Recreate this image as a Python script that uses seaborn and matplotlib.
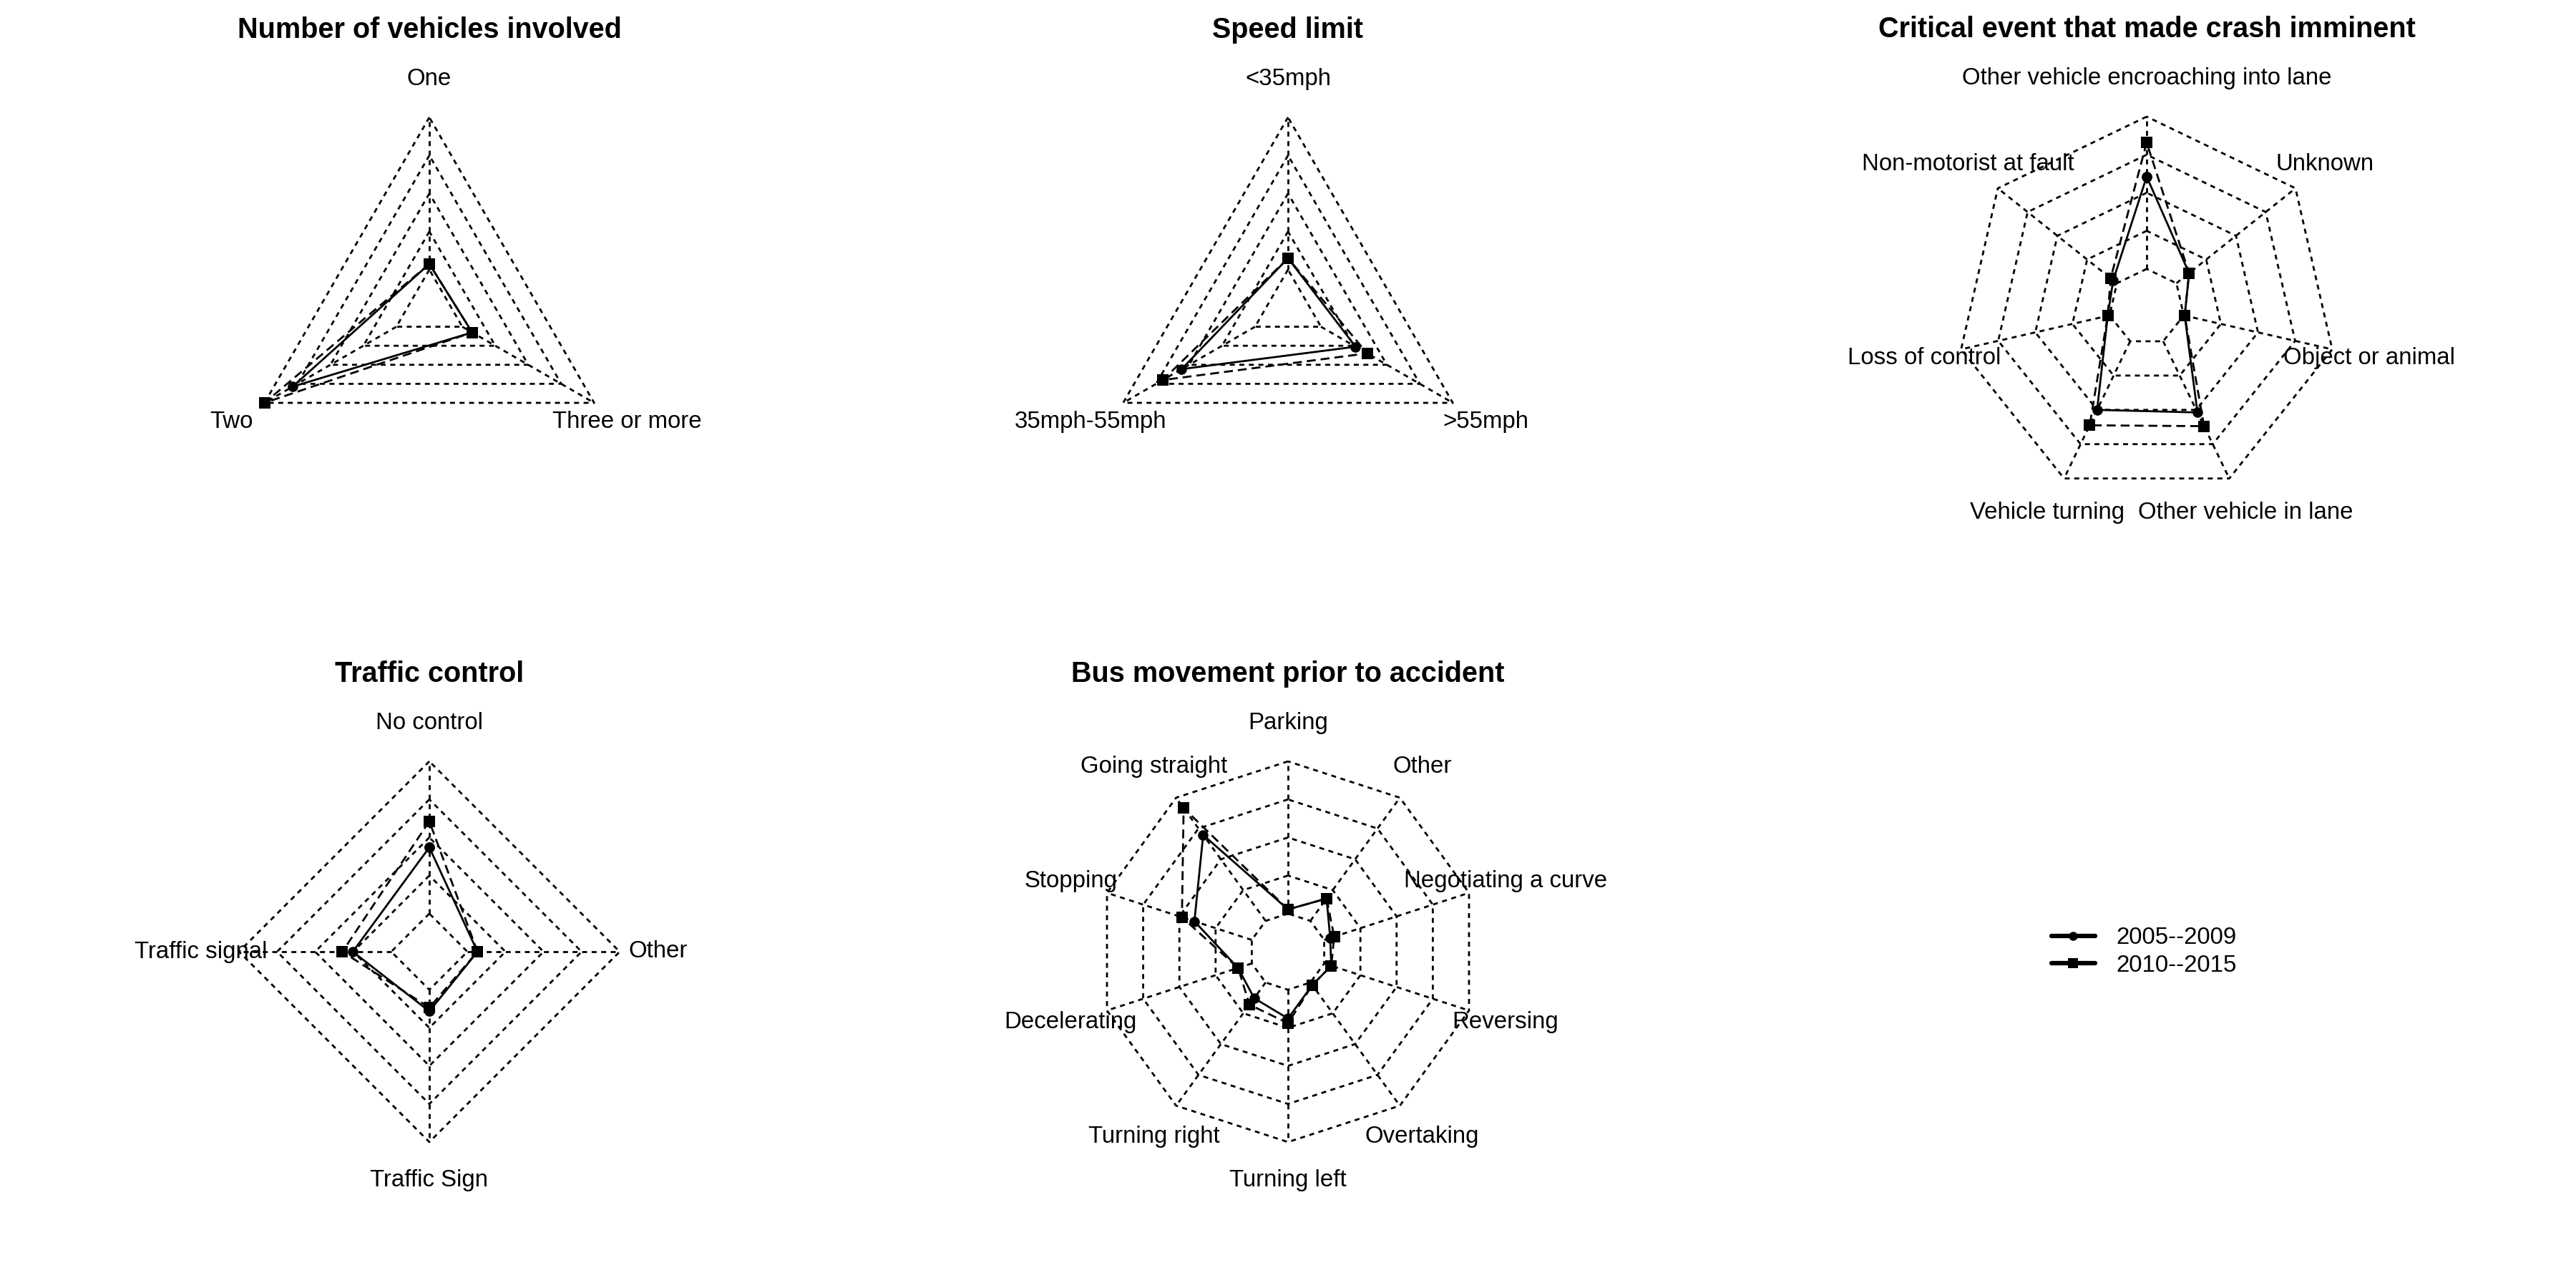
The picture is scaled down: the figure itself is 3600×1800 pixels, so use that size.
import numpy as np
import pandas as pd
import matplotlib.pyplot as plt
import matplotlib.lines as mlines
import seaborn as sns

# =============================== #
# data (radial position on the 0.2 - 1.0 grid)
# =============================== #
vehicles_title = "Number of vehicles involved"
vehicles_labels = ["One", "Two", "Three or more"]
vehicles_0509 = [0.23, 0.83, 0.26]
vehicles_1015 = [0.23, 1.00, 0.26]

speed_title = "Speed limit"
speed_labels = ["<35mph", "35mph-55mph", ">55mph"]
speed_0509 = [0.26, 0.645, 0.41]
speed_1015 = [0.26, 0.76, 0.48]

event_title = "Critical event that made crash imminent"
event_labels = ["Other vehicle encroaching into lane", "Non-motorist at fault", "Loss of control",
                "Vehicle turning", "Other vehicle in lane", "Object or animal", "Unknown"]
event_0509 = [0.685, 0.225, 0.21, 0.60, 0.615, 0.205, 0.285]
event_1015 = [0.864, 0.242, 0.21, 0.69, 0.695, 0.205, 0.285]

control_title = "Traffic control"
control_labels = ["No control", "Traffic signal", "Traffic Sign", "Other"]
control_0509 = [0.548, 0.402, 0.313, 0.253]
control_1015 = [0.685, 0.457, 0.294, 0.253]

movement_title = "Bus movement prior to accident"
movement_labels = ["Parking", "Going straight", "Stopping", "Decelerating", "Turning right",
                   "Turning left", "Overtaking", "Reversing", "Negotiating a curve", "Other"]
movement_0509 = [0.222, 0.758, 0.517, 0.276, 0.302, 0.351, 0.217, 0.239, 0.233, 0.345]
movement_1015 = [0.222, 0.933, 0.586, 0.276, 0.344, 0.376, 0.217, 0.239, 0.255, 0.345]

period_labels = ["2005--2009", "2010--2015"]
ring_levels = [0.2, 0.4, 0.6, 0.8, 1.0]

# =============================== #
# style
# =============================== #
sns.set_theme(style="white")
plt.rcParams['font.family'] = ['Liberation Sans', 'DejaVu Sans']
plt.rcParams['text.color'] = 'black'

W, H, DPI = 3600, 1800, 100
R = 266  # px for radius 1
label_fs = 23.8
title_fs = 28.5
grid_ls = (0, (2.5, 2.3))
dash_ls = (0, (4.5, 2.5))

fig = plt.figure(figsize=(W / DPI, H / DPI), dpi=DPI)
fig.patch.set_facecolor("white")

panels = [
    (vehicles_title, vehicles_labels, vehicles_0509, vehicles_1015, 600, 430),
    (speed_title, speed_labels, speed_0509, speed_1015, 1800, 430),
    (event_title, event_labels, event_0509, event_1015, 3000, 429),
    (control_title, control_labels, control_0509, control_1015, 600, 1330),
    (movement_title, movement_labels, movement_0509, movement_1015, 1800, 1330),
]

half = 1.5
for title, labels, v1, v2, cx, cy in panels:
    size = 2 * half * R
    ax = fig.add_axes([(cx - size / 2) / W, 1 - (cy + size / 2) / H, size / W, size / H])
    ax.set_xlim(-half, half)
    ax.set_ylim(-half, half)
    ax.set_axis_off()

    n = len(labels)
    ang = np.deg2rad(90 + 360.0 * np.arange(n) / n)
    ca, sa = np.cos(ang), np.sin(ang)

    # polygon grid
    for lev in ring_levels:
        ax.plot(np.append(ca, ca[0]) * lev, np.append(sa, sa[0]) * lev,
                color="black", lw=2.0, linestyle=grid_ls, zorder=1)
    for c, s in zip(ca, sa):
        ax.plot([c * 0.2, c], [s * 0.2, s], color="black", lw=2.0, linestyle=grid_ls, zorder=1)

    # data
    for vals, mk, ms, ls in [(v1, "o", 10.5, "-"), (v2, "s", 11, dash_ls)]:
        r = np.asarray(vals)
        df = pd.DataFrame({"x": np.append(ca * r, ca[0] * r[0]),
                           "y": np.append(sa * r, sa[0] * r[0])})
        sns.lineplot(data=df, x="x", y="y", sort=False, estimator=None, ax=ax,
                     color="black", lw=2.0, linestyle=ls, marker=mk, markersize=ms,
                     markeredgewidth=0, markeredgecolor="black", zorder=3)

    ax.set_xlabel("")
    ax.set_ylabel("")

    for lab, c, s in zip(labels, ca, sa):
        ax.text(1.2 * c, 1.2 * s, lab, ha="center", va="center", fontsize=label_fs,
                color="black", clip_on=False)

    ax.text(0, 1.46, title, ha="center", va="center", fontsize=title_fs,
            fontweight="bold", color="black", clip_on=False)

# legend
handles = [
    mlines.Line2D([], [], color="black", lw=4.5, marker="o", markersize=9,
                  markeredgewidth=0, solid_capstyle="round"),
    mlines.Line2D([], [], color="black", lw=4.5, marker="s", markersize=10.5,
                  markeredgewidth=0, solid_capstyle="round"),
]
leg = fig.legend(handles, period_labels, loc="center left",
                 bbox_to_anchor=(2867 / W, 1 - 1330 / H), frameon=False, fontsize=label_fs,
                 handlelength=1.84, handletextpad=0.88, borderpad=0, borderaxespad=0,
                 labelspacing=0.23)
for t in leg.get_texts():
    t.set_color("black")

plt.savefig("out.png", dpi=DPI, facecolor="white")
